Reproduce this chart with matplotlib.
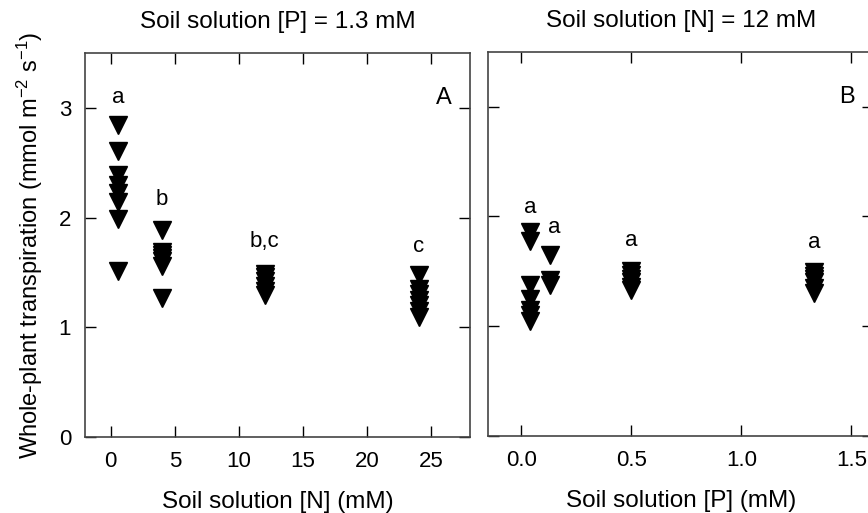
import matplotlib
matplotlib.use('Agg')
import matplotlib.pyplot as plt

plt.rcParams['font.family'] = ['Liberation Sans', 'DejaVu Sans']
plt.rcParams['mathtext.default'] = 'regular'

# panel A: nitrogen series (soil [P] = 1.3 mM)
n_levels = [0.6, 4, 12, 24]
n_values = [
    [2.84, 2.61, 2.39, 2.30, 2.22, 2.14, 1.99, 1.51],
    [1.89, 1.69, 1.66, 1.63, 1.60, 1.56, 1.27],
    [1.49, 1.46, 1.42, 1.38, 1.33, 1.29],
    [1.48, 1.35, 1.30, 1.25, 1.20, 1.15, 1.09],
]
n_letters = ['a', 'b', 'b,c', 'c']
n_letter_y = [3.09, 2.16, 1.78, 1.74]

# panel B: phosphorus series (soil [N] = 12 mM)
p_levels = [0.04, 0.13, 0.5, 1.33]
p_values = [
    [1.86, 1.78, 1.38, 1.25, 1.15, 1.10, 1.05],
    [1.65, 1.42, 1.38],
    [1.50, 1.47, 1.43, 1.40, 1.36, 1.33],
    [1.49, 1.46, 1.43, 1.40, 1.35, 1.30],
]
p_letters = ['a', 'a', 'a', 'a']
p_letter_y = [2.08, 1.90, 1.78, 1.76]
p_letter_dx = [0.0, 0.02, 0.0, 0.0]


def style_axes(ax):
    for s in ax.spines.values():
        s.set_color('#444444')
        s.set_linewidth(1.2)
    ax.tick_params(direction='in', length=8, width=1.0, top=True, right=True,
                   labelsize=16, pad=10)
    ax.set_ylim(0, 3.5)
    ax.set_yticks([0, 1, 2, 3])


fig = plt.figure(figsize=(8.68, 5.13), dpi=100)
ax1 = fig.add_axes([0.0979, 0.148, 0.4435, 0.749])
ax2 = fig.add_axes([0.5626, 0.150, 0.4435, 0.749])

for x, ys in zip(n_levels, n_values):
    ax1.plot([x] * len(ys), ys, 'v', color='black', ms=12.5, mec='black')
for x, lab, ly in zip(n_levels, n_letters, n_letter_y):
    ax1.text(x, ly, lab, ha='center', va='center', fontsize=16)
ax1.text(26.0, 3.09, 'A', ha='center', va='center', fontsize=17)
style_axes(ax1)
ax1.set_xlim(-2, 28)
ax1.set_xticks([0, 5, 10, 15, 20, 25])
ax1.set_xlabel('Soil solution [N] (mM)', fontsize=17.5, labelpad=14)
ax1.set_ylabel('Whole-plant transpiration (mmol m$^{-2}$ s$^{-1}$)',
               fontsize=17, labelpad=10)
ax1.set_title('Soil solution [P] = 1.3 mM', fontsize=17.5, pad=18)

for x, ys in zip(p_levels, p_values):
    ax2.plot([x] * len(ys), ys, 'v', color='black', ms=12.5, mec='black')
for x, lab, ly, dx in zip(p_levels, p_letters, p_letter_y, p_letter_dx):
    ax2.text(x + dx, ly, lab, ha='center', va='center', fontsize=16)
ax2.text(1.48, 3.09, 'B', ha='center', va='center', fontsize=17)
style_axes(ax2)
ax2.set_xlim(-0.15, 1.6)
ax2.set_xticks([0.0, 0.5, 1.0, 1.5])
ax2.set_xticklabels(['0.0', '0.5', '1.0', '1.5'])
ax2.tick_params(labelleft=False)
ax2.set_xlabel('Soil solution [P] (mM)', fontsize=17.5, labelpad=14)
ax2.set_title('Soil solution [N] = 12 mM', fontsize=17.5, pad=18)

fig.savefig('out.png', dpi=100)
